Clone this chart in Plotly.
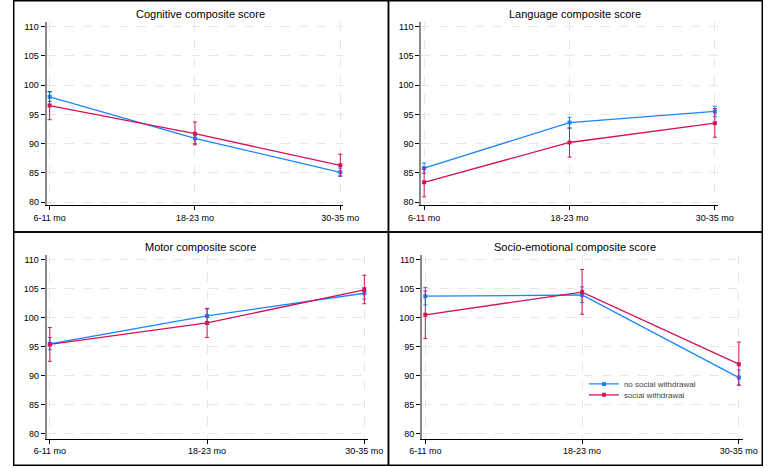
import plotly.graph_objects as go

age_groups = ["6-11 mo", "18-23 mo", "30-35 mo"]
x_pos = [0, 1, 2]
panel_titles = ["Cognitive composite score", "Language composite score",
                "Motor composite score", "Socio-emotional composite score"]
series_names = ["no social withdrawal", "social withdrawal"]
y_ticks = [80, 85, 90, 95, 100, 105, 110]

# Cognitive
cog_no_mean = [98.0, 90.9, 85.1]
cog_no_lo = [97.2, 90.0, 84.4]
cog_no_hi = [98.8, 91.7, 85.8]
cog_sw_mean = [96.5, 91.7, 86.3]
cog_sw_lo = [94.1, 89.8, 84.5]
cog_sw_hi = [98.9, 93.7, 88.2]
# Language
lang_no_mean = [85.8, 93.6, 95.5]
lang_no_lo = [84.9, 92.6, 94.6]
lang_no_hi = [86.7, 94.5, 96.4]
lang_sw_mean = [83.4, 90.2, 93.5]
lang_sw_lo = [80.9, 87.7, 91.1]
lang_sw_hi = [85.9, 92.7, 96.0]
# Motor
mot_no_mean = [95.5, 100.3, 104.2]
mot_no_lo = [94.5, 99.1, 103.2]
mot_no_hi = [96.6, 101.5, 105.2]
mot_sw_mean = [95.4, 99.1, 104.8]
mot_sw_lo = [92.5, 96.6, 102.4]
mot_sw_hi = [98.3, 101.6, 107.3]
# Socio-emotional
soc_no_mean = [103.7, 103.9, 89.7]
soc_no_lo = [102.2, 102.6, 88.4]
soc_no_hi = [105.2, 105.3, 91.0]
soc_sw_mean = [100.5, 104.4, 92.0]
soc_sw_lo = [96.4, 100.6, 88.4]
soc_sw_hi = [104.6, 108.3, 95.8]

panels = [
    (cog_no_mean, cog_no_lo, cog_no_hi, cog_sw_mean, cog_sw_lo, cog_sw_hi),
    (lang_no_mean, lang_no_lo, lang_no_hi, lang_sw_mean, lang_sw_lo, lang_sw_hi),
    (mot_no_mean, mot_no_lo, mot_no_hi, mot_sw_mean, mot_sw_lo, mot_sw_hi),
    (soc_no_mean, soc_no_lo, soc_no_hi, soc_sw_mean, soc_sw_lo, soc_sw_hi),
]

W, H = 779, 468
BLUE = "#1a85ff"
RED = "#d41159"
FONT = "Liberation Sans, Arial, sans-serif"

# pixel geometry of plot areas: (left, right, top, bottom, xmax, ymin)
geom = [
    (35, 343, 21.7, 206, 2.02, 79.5),
    (424, 732, 21.7, 206, 2.02, 79.5),
    (35, 369, 255.7, 440.5, 2.025, 79.2),
    (425, 758, 255.7, 440.5, 2.025, 79.2),
]

fig = go.Figure()
layout = {}
for i, (data, g) in enumerate(zip(panels, geom)):
    left, right, top, bottom, xmax, ymin = g
    n = "" if i == 0 else str(i + 1)
    xa, ya = "x" + n, "y" + n
    layout["xaxis" + n] = dict(
        domain=[left / W, right / W], range=[-0.02, xmax], anchor=ya,
        tickvals=x_pos, ticktext=age_groups, ticks="outside", ticklen=4,
        tickcolor="#000", tickwidth=1, showline=True, linecolor="#000",
        linewidth=1, showgrid=True, gridcolor="#e6e6e6", griddash="dash",
        gridwidth=1, zeroline=False,
        tickfont=dict(size=9, color="#000", family=FONT))
    layout["yaxis" + n] = dict(
        domain=[1 - bottom / H, 1 - top / H], range=[ymin, 110.85], anchor=xa,
        tickvals=y_ticks, ticks="outside", ticklen=4, tickcolor="#000",
        tickwidth=1, showline=True, linecolor="#888", linewidth=2,
        showgrid=True, gridcolor="#e6e6e6", griddash="dash", gridwidth=1,
        zeroline=False, tickfont=dict(size=9, color="#000", family=FONT))
    no_m, no_l, no_h, sw_m, sw_l, sw_h = data
    for k, (name, m, lo, hi, col) in enumerate(
            [(series_names[0], no_m, no_l, no_h, BLUE),
             (series_names[1], sw_m, sw_l, sw_h, RED)]):
        fig.add_trace(go.Scatter(
            x=x_pos, y=m, xaxis=xa, yaxis=ya, name=name,
            mode="lines+markers", showlegend=(i == 0),
            legend="legend" if k == 0 else "legend2",
            line=dict(color=col, width=1.3),
            marker=dict(color=col, size=4, symbol="square"),
            error_y=dict(type="data", symmetric=False,
                         array=[h - v for h, v in zip(hi, m)],
                         arrayminus=[v - l for v, l in zip(m, lo)],
                         color=col, thickness=1, width=2),
        ))

annotations = []
title_pos = [(195, 14), (584, 14), (195, 248), (584, 248)]
for t, (cx, cy) in zip(panel_titles, title_pos):
    annotations.append(dict(text=t, x=cx / W, y=1 - cy / H, xref="paper",
                            yref="paper", showarrow=False, xanchor="center",
                            yanchor="middle",
                            font=dict(size=11, color="#000", family=FONT)))

shapes = []
for (x0, y0, x1, y1) in [(0.75, 0.75, 390, 233), (390, 0.75, 778.25, 233),
                         (0.75, 233, 390, 467.25), (390, 233, 778.25, 467.25)]:
    shapes.append(dict(type="rect", xref="paper", yref="paper",
                       x0=x0 / W, x1=x1 / W, y0=1 - y0 / H, y1=1 - y1 / H,
                       line=dict(color="#000", width=1.5)))

leg_common = dict(xanchor="left", yanchor="top", bgcolor="rgba(0,0,0,0)",
                  font=dict(size=8, color="#444", family=FONT), itemwidth=30)

fig.update_layout(
    width=W, height=H, margin=dict(l=0, r=0, t=0, b=0),
    paper_bgcolor="white", plot_bgcolor="white",
    annotations=annotations, shapes=shapes,
    legend=dict(x=593 / W, y=1 - 371 / H, **leg_common),
    legend2=dict(x=593 / W, y=1 - 382 / H, **leg_common),
    **layout,
)

fig.write_html("out.html")
